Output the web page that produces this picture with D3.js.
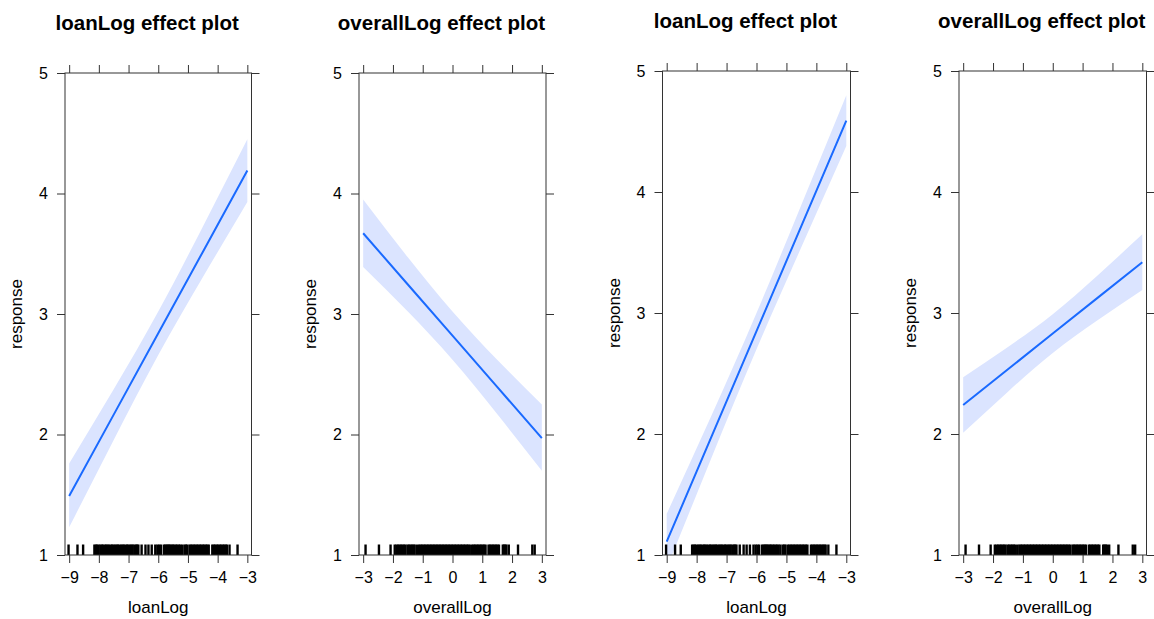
<!DOCTYPE html>
<html>
<head>
<meta charset="utf-8">
<script src="https://cdn.jsdelivr.net/npm/d3@7"></script>
<style>
  body { margin: 0; background: #fff; }
  svg { display: block; }
  text { font-family: "Liberation Sans", Arial, Helvetica, sans-serif; fill: #000; }
</style>
</head>
<body>
<svg id="chart" width="1154" height="619"></svg>
<script>
// ---- tick labels ----
const responseTicks = [1, 2, 3, 4, 5];
const loanLogTicks = [-9, -8, -7, -6, -5, -4, -3];
const overallLogTicks = [-3, -2, -1, 0, 1, 2, 3];

// ---- observed predictor values (rug) ----
const loanLogRug = [
  -9.02, -8.72, -8.53,
  -8.15, -8.10, -8.06, -8.01, -7.95, -7.90, -7.86, -7.80, -7.75, -7.71, -7.66, -7.60,
  -7.55, -7.51, -7.45, -7.40, -7.36, -7.31, -7.25, -7.20, -7.16, -7.10, -7.05, -7.01,
  -6.95, -6.90, -6.86, -6.80, -6.75, -6.71, -6.67,
  -6.56, -6.43, -6.33, -6.22, -6.10, -6.03, -5.97, -5.91,
  -5.81, -5.76, -5.72, -5.68, -5.64, -5.60, -5.55, -5.51, -5.46, -5.41, -5.36, -5.31,
  -5.26, -5.20, -5.12, -5.07, -5.03, -4.95, -4.90, -4.85, -4.80, -4.75, -4.70, -4.65,
  -4.60, -4.55, -4.50, -4.45, -4.40, -4.35, -4.30, -4.18, -4.13, -4.08, -4.03, -3.98,
  -3.93, -3.88, -3.83, -3.78, -3.73, -3.69, -3.60, -3.33
];
const overallLogRug = [
  -2.92, -2.47, -2.08, -1.94, -1.88, -1.83, -1.78, -1.73, -1.68, -1.63, -1.58, -1.51,
  -1.46, -1.41, -1.36, -1.31, -1.27, -1.19, -1.12, -1.07, -1.02, -0.97, -0.92, -0.87,
  -0.82, -0.77, -0.72, -0.67, -0.62, -0.57, -0.52, -0.47, -0.42, -0.37, -0.32, -0.27,
  -0.22, -0.17, -0.12, -0.07, -0.02, 0.03, 0.08, 0.13, 0.18, 0.23, 0.28, 0.33, 0.38,
  0.43, 0.48, 0.53, 0.58, 0.66, 0.71, 0.76, 0.81, 0.86, 0.91, 0.96, 1.01, 1.06, 1.11,
  1.21, 1.26, 1.31, 1.36, 1.41, 1.46, 1.51, 1.56, 1.69, 1.73, 1.77, 1.81, 1.89, 2.20,
  2.68, 2.76
];

// ---- model 1: loanLog effect ----
const m1LoanX     = [-9, -7.5, -6, -4.5, -3];
const m1LoanFit   = [1.49, 2.165, 2.84, 3.515, 4.19];
const m1LoanLower = [1.23, 1.955, 2.66, 3.305, 3.93];
const m1LoanUpper = [1.76, 2.375, 3.02, 3.725, 4.45];

// ---- model 1: overallLog effect ----
const m1OverallX     = [-3, -1.5, 0, 1.5, 3];
const m1OverallFit   = [3.67, 3.245, 2.82, 2.395, 1.97];
const m1OverallLower = [3.39, 3.02, 2.62, 2.17, 1.70];
const m1OverallUpper = [3.95, 3.47, 3.02, 2.62, 2.25];

// ---- model 2: loanLog effect ----
const m2LoanX     = [-9, -7.5, -6, -4.5, -3];
const m2LoanFit   = [1.11, 1.98, 2.85, 3.72, 4.59];
const m2LoanLower = [0.89, 1.805, 2.70, 3.545, 4.38];
const m2LoanUpper = [1.34, 2.155, 3.00, 3.895, 4.80];

// ---- model 2: overallLog effect ----
const m2OverallX     = [-3, -1.5, 0, 1.5, 3];
const m2OverallFit   = [2.24, 2.535, 2.83, 3.125, 3.42];
const m2OverallLower = [2.01, 2.35, 2.67, 2.94, 3.19];
const m2OverallUpper = [2.47, 2.72, 2.99, 3.31, 3.65];

// ---- panel layout ----
const panels = [
  { title: "loanLog effect plot", xLabel: "loanLog", ticks: loanLogTicks, rug: loanLogRug,
    xs: m1LoanX, fit: m1LoanFit, lower: m1LoanLower, upper: m1LoanUpper,
    box: { left: 65, right: 251.5, top: 73, bottom: 555 }, titleY: 30 },
  { title: "overallLog effect plot", xLabel: "overallLog", ticks: overallLogTicks, rug: overallLogRug,
    xs: m1OverallX, fit: m1OverallFit, lower: m1OverallLower, upper: m1OverallUpper,
    box: { left: 359, right: 546, top: 73, bottom: 555 }, titleY: 30 },
  { title: "loanLog effect plot", xLabel: "loanLog", ticks: loanLogTicks, rug: loanLogRug,
    xs: m2LoanX, fit: m2LoanFit, lower: m2LoanLower, upper: m2LoanUpper,
    box: { left: 662.5, right: 850.5, top: 71, bottom: 555 }, titleY: 28 },
  { title: "overallLog effect plot", xLabel: "overallLog", ticks: overallLogTicks, rug: overallLogRug,
    xs: m2OverallX, fit: m2OverallFit, lower: m2OverallLower, upper: m2OverallUpper,
    box: { left: 959, right: 1146.5, top: 71, bottom: 555 }, titleY: 28 }
];

const LINE_COLOR = "#1a6aff";
const BAND_COLOR = "#dbe4ff";
const AXIS_COLOR = "#333";
const TICK = 8;

const svg = d3.select("#chart");

panels.forEach((p, i) => {
  const b = p.box;
  const pad = 0.14;
  const x = d3.scaleLinear()
    .domain([d3.min(p.ticks) - pad, d3.max(p.ticks) + pad])
    .range([b.left, b.right]);
  const y = d3.scaleLinear().domain([1, 5]).range([b.bottom, b.top]);

  const g = svg.append("g");

  // clip for the confidence band and fitted line
  const clipId = "clip" + i;
  svg.append("clipPath").attr("id", clipId)
    .append("rect")
    .attr("x", b.left).attr("y", b.top)
    .attr("width", b.right - b.left).attr("height", b.bottom - b.top);

  const rows = p.xs.map((v, k) => ({ x: v, fit: p.fit[k], lo: p.lower[k], hi: p.upper[k] }));

  const area = d3.area()
    .x(d => x(d.x)).y0(d => y(d.lo)).y1(d => y(d.hi))
    .curve(d3.curveNatural);
  g.append("path")
    .datum(rows)
    .attr("clip-path", `url(#${clipId})`)
    .attr("d", area)
    .attr("fill", BAND_COLOR);

  const line = d3.line().x(d => x(d.x)).y(d => y(d.fit));
  g.append("path")
    .datum(rows)
    .attr("clip-path", `url(#${clipId})`)
    .attr("d", line)
    .attr("fill", "none")
    .attr("stroke", LINE_COLOR)
    .attr("stroke-width", 2);

  // rug of observed values
  g.append("g").selectAll("line")
    .data(p.rug)
    .join("line")
    .attr("x1", d => x(d)).attr("x2", d => x(d))
    .attr("y1", b.bottom).attr("y2", b.bottom - 10.5)
    .attr("stroke", "#000")
    .attr("stroke-width", 2.4);

  // axes: labelled on left and bottom, bare ticks on top and right
  const styleAxis = sel => {
    sel.select(".domain").remove();
    sel.selectAll(".tick line").attr("stroke", AXIS_COLOR);
    sel.selectAll(".tick text").style("font-size", "16px").attr("fill", "#000");
  };
  g.append("g").attr("transform", `translate(${b.left},0)`)
    .call(d3.axisLeft(y).tickValues(responseTicks).tickSize(TICK).tickPadding(9).tickFormat(d3.format("d")))
    .call(styleAxis);
  g.append("g").attr("transform", `translate(${b.right},0)`)
    .call(d3.axisRight(y).tickValues(responseTicks).tickSize(TICK).tickFormat(""))
    .call(styleAxis);
  g.append("g").attr("transform", `translate(0,${b.bottom})`)
    .call(d3.axisBottom(x).tickValues(p.ticks).tickSize(TICK).tickPadding(9).tickFormat(d3.format("d")))
    .call(styleAxis);
  g.append("g").attr("transform", `translate(0,${b.top})`)
    .call(d3.axisTop(x).tickValues(p.ticks).tickSize(TICK).tickFormat(""))
    .call(styleAxis);

  // panel frame
  g.append("rect")
    .attr("x", b.left).attr("y", b.top)
    .attr("width", b.right - b.left).attr("height", b.bottom - b.top)
    .attr("fill", "none").attr("stroke", AXIS_COLOR).attr("stroke-width", 1);

  // titles and axis labels
  const cx = (b.left + b.right) / 2;
  g.append("text")
    .attr("x", cx - 11).attr("y", p.titleY)
    .attr("text-anchor", "middle")
    .style("font-size", "20.5px").style("font-weight", "bold")
    .text(p.title);
  g.append("text")
    .attr("x", cx).attr("y", 613)
    .attr("text-anchor", "middle")
    .style("font-size", "17px")
    .text(p.xLabel);
  g.append("text")
    .attr("transform", `translate(${b.left - 43},${(b.top + b.bottom) / 2}) rotate(-90)`)
    .attr("text-anchor", "middle")
    .style("font-size", "17px")
    .text("response");
});
</script>
</body>
</html>
